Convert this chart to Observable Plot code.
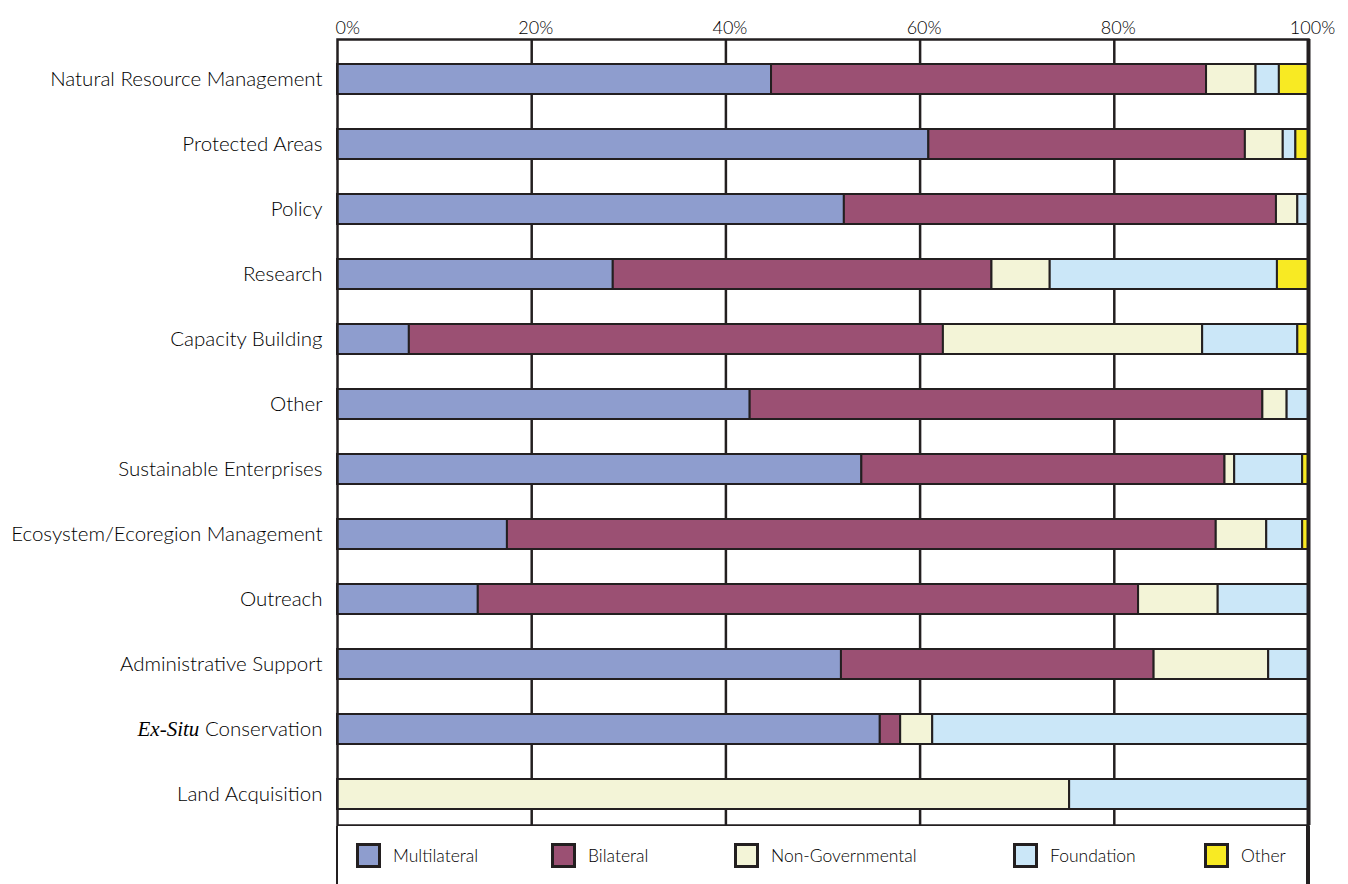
<!DOCTYPE html>
<html>
<head>
<meta charset="utf-8">
<script src="https://cdn.jsdelivr.net/npm/d3@7"></script>
<script src="https://cdn.jsdelivr.net/npm/@observablehq/plot@0.6"></script>
<style>
  html, body { margin: 0; padding: 0; background: #fff; }
  body { width: 1348px; height: 884px; overflow: hidden; font-family: "Lato", "Noto Sans", sans-serif; font-weight: 300; color: #000; }
  #chart svg { display: block; }
  #legend { position: relative; margin-left: 336px; width: 968px; height: 70px; border-left: 2px solid #231f20; border-right: 4px solid #231f20; }
  .item { position: absolute; top: 17px; display: flex; align-items: center; font-size: 17.5px; }
  .sw { width: 19px; height: 19px; border: 3px solid #231f20; margin-right: 12px; }
</style>
</head>
<body>
<div id="chart"></div>
<div id="legend"></div>
<script>
const categories = [
  "Natural Resource Management",
  "Protected Areas",
  "Policy",
  "Research",
  "Capacity Building",
  "Other",
  "Sustainable Enterprises",
  "Ecosystem/Ecoregion Management",
  "Outreach",
  "Administrative Support",
  "Ex-Situ Conservation",
  "Land Acquisition"
];
const seriesNames = ["Multilateral", "Bilateral", "Non-Governmental", "Foundation", "Other"];
const seriesColors = ["#8e9dce", "#9b5073", "#f3f4d7", "#cbe7f8", "#f8ea23"];
const multilateral    = [44.7, 60.9, 52.2, 28.4,  7.4, 42.5, 54.0, 17.5, 14.5, 51.9, 55.9,  0.0];
const bilateral       = [44.8, 32.6, 44.5, 39.0, 55.0, 52.8, 37.4, 73.0, 68.0, 32.2,  2.1,  0.0];
const nonGovernmental = [ 5.1,  3.9,  2.2,  6.0, 26.7,  2.5,  1.0,  5.2,  8.2, 11.8,  3.3, 75.4];
const foundation      = [ 2.4,  1.3,  1.1, 23.4,  9.8,  2.2,  7.0,  3.7,  9.3,  4.1, 38.7, 24.6];
const other           = [ 3.0,  1.3,  0.0,  3.2,  1.1,  0.0,  0.6,  0.6,  0.0,  0.0,  0.0,  0.0];
const xTicks = [0, 20, 40, 60, 80, 100];
const legendLefts = [18, 213, 396, 675, 866];

const seriesValues = [multilateral, bilateral, nonGovernmental, foundation, other];
const rows = [];
categories.forEach((c, i) => {
  seriesNames.forEach((s, j) => {
    const v = seriesValues[j][i];
    if (v > 0) rows.push({category: c, series: s, value: v});
  });
});

const ink = "#231f20";
const textInk = "#000";
const chart = Plot.plot({
  width: 1348,
  height: 826,
  marginLeft: 337,
  marginRight: 40,
  marginTop: 39,
  marginBottom: 1,
  style: {fontFamily: "Lato, 'Noto Sans', sans-serif", fontWeight: 300, color: textInk, background: "#fff"},
  x: {domain: [0, 100], axis: null, label: null},
  y: {domain: categories, paddingInner: 0.54, paddingOuter: 0.291, align: 0.62, axis: null, label: null},
  color: {domain: seriesNames, range: seriesColors},
  marks: [
    Plot.ruleX(xTicks.slice(1, -1), {stroke: ink, strokeWidth: 2.5}),
    Plot.barX(rows, Plot.stackX({y: "category", x: "value", fill: "series", stroke: ink, strokeWidth: 2, order: null})),
    Plot.frame({stroke: ink, strokeWidth: 2.5}),
    Plot.ruleX([100], {stroke: ink, strokeWidth: 4}),
    Plot.axisX(xTicks.slice(1), {anchor: "top", label: null, tickSize: 0, tickPadding: 6, dx: 4, fontSize: 18, tickFormat: d => d + "%", fill: textInk}),
    Plot.axisX([0], {anchor: "top", label: null, tickSize: 0, tickPadding: 6, dx: -2, textAnchor: "start", fontSize: 18, tickFormat: d => d + "%", fill: textInk}),
    Plot.axisY({anchor: "left", label: null, tickSize: 0, tickPadding: 15, fontSize: 20.5, fill: textInk})
  ]
});
document.getElementById("chart").append(chart);

// Style "Ex-Situ" in italic script like the original
d3.select(chart).selectAll("text").each(function() {
  if (this.textContent === "Ex-Situ Conservation") {
    const t = d3.select(this);
    t.text(null);
    t.append("tspan").attr("font-family", "'Liberation Serif', serif").attr("font-style", "italic").attr("font-weight", 400).attr("font-size", 21).text("Ex-Situ");
    t.append("tspan").text(" Conservation");
  }
});

const legend = d3.select("#legend");
seriesNames.forEach((s, i) => {
  const it = legend.append("div").attr("class", "item").style("left", legendLefts[i] + "px");
  it.append("div").attr("class", "sw").style("background", seriesColors[i]);
  it.append("span").text(s);
});
</script>
</body>
</html>
